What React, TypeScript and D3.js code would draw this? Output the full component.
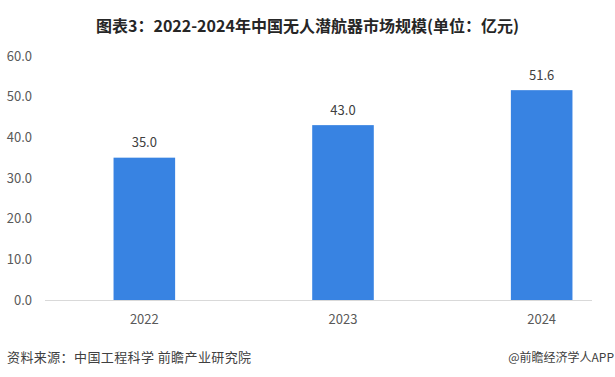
import React from "react";
import * as d3 from "d3";

const years = ["2022", "2023", "2024"];
const values = [35.0, 43.0, 51.6];
const yTicks = [0, 10, 20, 30, 40, 50, 60];
const title = "图表3：2022-2024年中国无人潜航器市场规模(单位：亿元)";
const source = "资料来源：中国工程科学 前瞻产业研究院";
const credit = "@前瞻经济学人APP";

const W = 615;
const H = 377;
const FONT = "'Noto Sans CJK SC', 'Microsoft YaHei', sans-serif";

export default function App() {
  const x = d3
    .scaleBand<string>()
    .domain(years)
    .range([45, 641])
    .paddingInner(0.69)
    .paddingOuter(0.345);
  const y = d3.scaleLinear().domain([0, 60]).range([300, 56]);

  return (
    <svg
      width={W}
      height={H}
      style={{ position: "absolute", left: 0, top: 0, background: "#fff" }}
      fontFamily={FONT}
    >
      <rect width={W} height={H} fill="#fff" />
      <text
        x={W / 2}
        y={25}
        textAnchor="middle"
        dominantBaseline="central"
        fontSize={16}
        fontWeight="bold"
        fill="#262626"
      >
        {title}
      </text>
      {yTicks.map((t) => (
        <text
          key={t}
          x={32}
          y={y(t) - 1}
          textAnchor="end"
          dominantBaseline="central"
          fontSize={13}
          fill="#595959"
        >
          {d3.format(".1f")(t)}
        </text>
      ))}
      <line x1={45} x2={592} y1={y(0) + 0.5} y2={y(0) + 0.5} stroke="#d9d9d9" strokeWidth={1} />
      {years.map((yr, i) => {
        const bx = x(yr)!;
        const bw = x.bandwidth();
        const top = y(values[i]);
        return (
          <g key={yr}>
            <rect x={bx} y={top} width={bw} height={y(0) - top} fill="#3883e2" />
            <text
              x={bx + bw / 2}
              y={top - 16}
              textAnchor="middle"
              dominantBaseline="central"
              fontSize={13}
              fill="#404040"
            >
              {d3.format(".1f")(values[i])}
            </text>
            <text
              x={bx + bw / 2}
              y={318}
              textAnchor="middle"
              dominantBaseline="central"
              fontSize={13}
              fill="#595959"
            >
              {yr}
            </text>
          </g>
        );
      })}
      <text x={7} y={356} dominantBaseline="central" fontSize={13} letterSpacing={0.4} fill="#404040">
        {source}
      </text>
      <text x={614} y={356} textAnchor="end" dominantBaseline="central" fontSize={12} fill="#404040">
        {credit}
      </text>
    </svg>
  );
}
